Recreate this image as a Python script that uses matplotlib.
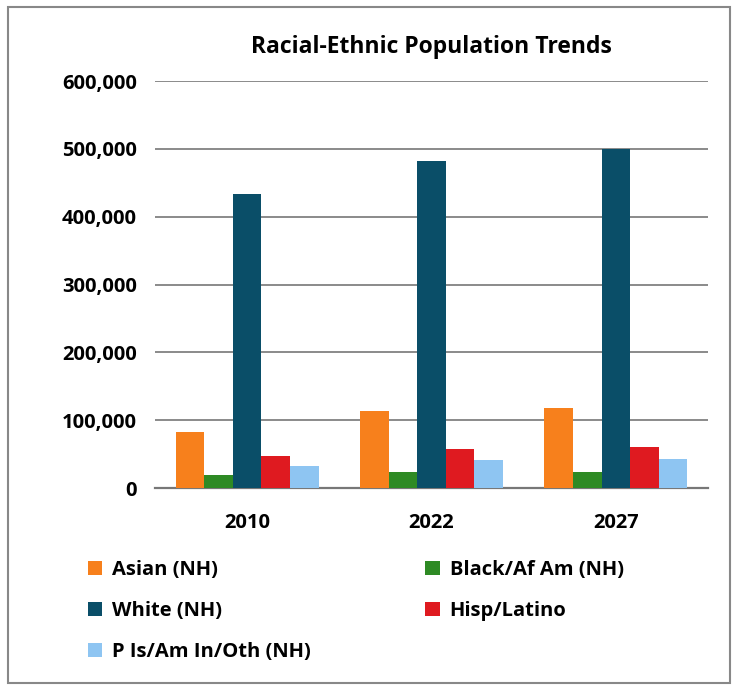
import matplotlib.pyplot as plt
import numpy as np
from matplotlib.patches import Rectangle
from matplotlib.ticker import FuncFormatter

plt.rcParams['font.family'] = ['Open Sans', 'DejaVu Sans']
plt.rcParams['font.weight'] = 'bold'

years = ['2010', '2022', '2027']
groups = ['Asian (NH)', 'Black/Af Am (NH)', 'White (NH)', 'Hisp/Latino', 'P Is/Am In/Oth (NH)']
asian = [83000, 113000, 118000]
black = [19500, 23500, 23500]
white = [434000, 482000, 500000]
hisp = [46500, 57000, 60000]
pi_oth = [32000, 41000, 43000]
colors = ['#F7801C', '#2E8A24', '#0A4E68', '#DF1A20', '#8EC5F2']

series = [asian, black, white, hisp, pi_oth]

fig = plt.figure(figsize=(7.33, 6.86), dpi=100)
ax = fig.add_axes([0.2115, 0.2886, 0.7544, 0.5933])

x = np.arange(len(years))
w = 0.155
handles = []
for i, (vals, name, c) in enumerate(zip(series, groups, colors)):
    b = ax.bar(x + (i - 2) * w, vals, w, color=c, label=name, zorder=3)
    handles.append(b)

ax.set_ylim(0, 600000)
ax.set_xlim(-0.5, 2.5)
ax.set_yticks(range(0, 600001, 100000))
ax.yaxis.set_major_formatter(FuncFormatter(lambda v, p: f'{int(v):,}'))
ax.set_xticks(x)
ax.set_xticklabels(years)
ax.grid(axis='y', color='#8a8a8a', linewidth=1.4, zorder=0)
for s in ['top', 'right', 'left']:
    ax.spines[s].set_visible(False)
ax.spines['bottom'].set_color('#777777')
ax.spines['bottom'].set_linewidth(1.6)
ax.tick_params(axis='both', length=0, labelsize=14.5)
ax.tick_params(axis='y', pad=13)
ax.tick_params(axis='x', pad=18)
for lbl in ax.get_xticklabels() + ax.get_yticklabels():
    lbl.set_fontweight('bold')

fig.text(0.588, 0.932, 'Racial-Ethnic Population Trends', ha='center', va='center',
         fontsize=16.5, fontweight='bold')

# legend is filled column by column, so reorder to read row by row
order = [0, 2, 4, 1, 3]
leg = fig.legend([handles[i] for i in order], [groups[i] for i in order],
                 ncol=2, loc='upper left', bbox_to_anchor=(0.095, 0.21),
                 frameon=False, fontsize=14.5, handlelength=0.7, handleheight=0.7,
                 handletextpad=0.5, columnspacing=5.7, labelspacing=1.05)
for t in leg.get_texts():
    t.set_fontweight('bold')

fig.patches.append(Rectangle((0.011, 0.004), 0.985, 0.986, transform=fig.transFigure,
                             fill=False, edgecolor='#888888', linewidth=1.5))

plt.savefig('out.png', dpi=100)
